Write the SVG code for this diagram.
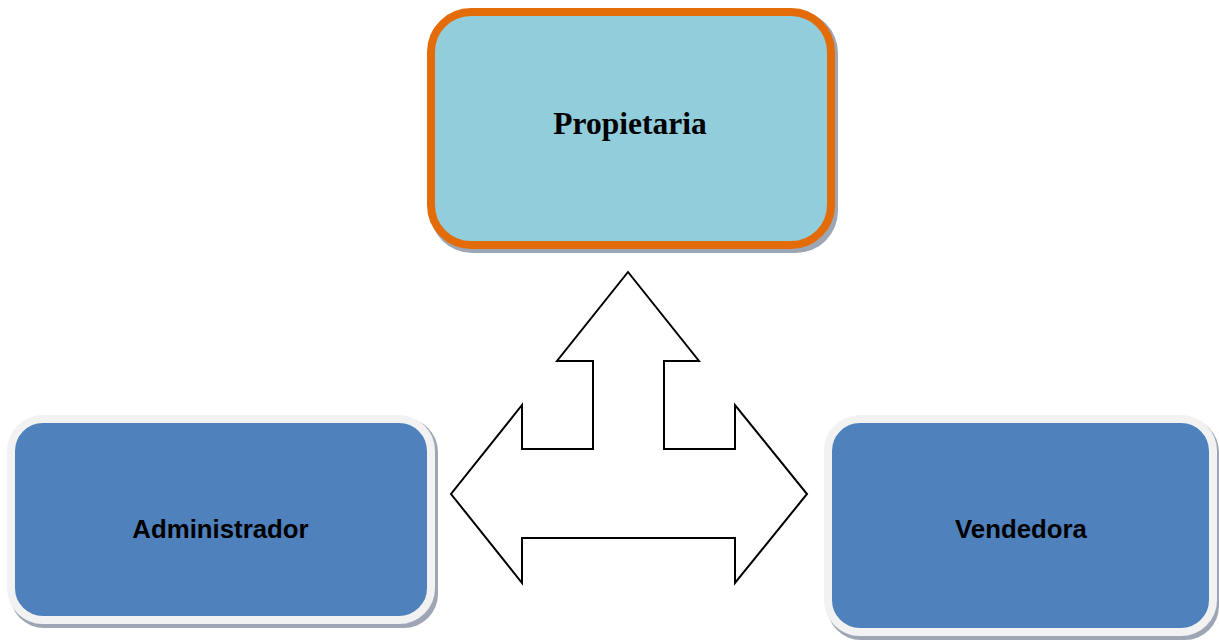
<svg xmlns="http://www.w3.org/2000/svg" width="1219" height="640" viewBox="0 0 1219 640">
<style>
.shadow{fill:#9EA6B5;stroke:none}
.blue{fill:#4F81BD;stroke:#F2F2F2;stroke-width:8}
.lbl{font-family:"Liberation Sans",Arial,sans-serif;font-weight:bold;font-size:25.8px;fill:#000;text-anchor:middle}
</style>
<rect width="1219" height="640" fill="#fff"/>
<g id="propietaria">
<rect class="shadow" x="430" y="11" width="408" height="242" rx="42"/>
<rect x="431" y="12" width="400" height="233" rx="40" fill="#92CDDC" stroke="#E36C09" stroke-width="8"/>
<text x="630" y="134" font-family="'Liberation Serif','Times New Roman',serif" font-weight="bold" font-size="31.5" text-anchor="middle" fill="#000">Propietaria</text>
</g>
<g id="administrador">
<rect class="shadow" x="10" y="418" width="428" height="210" rx="34"/>
<rect class="blue" x="11" y="419" width="420" height="201" rx="32"/>
<text class="lbl" x="220.5" y="538">Administrador</text>
</g>
<g id="vendedora">
<rect class="shadow" x="827" y="418" width="392" height="222" rx="34"/>
<rect class="blue" x="828" y="419" width="385" height="213" rx="32"/>
<text class="lbl" x="1021" y="538">Vendedora</text>
</g>
<g id="connectors">
<path d="M628,272 L699,361 L664,361 L664,449 L735,449 L735,405 L807,494 L735,583 L735,538 L522,538 L522,583 L451,494 L522,405 L522,449 L593,449 L593,361 L557,361 Z" fill="#fff" stroke="#000" stroke-width="2" stroke-linejoin="miter"/>
</g>
</svg>
